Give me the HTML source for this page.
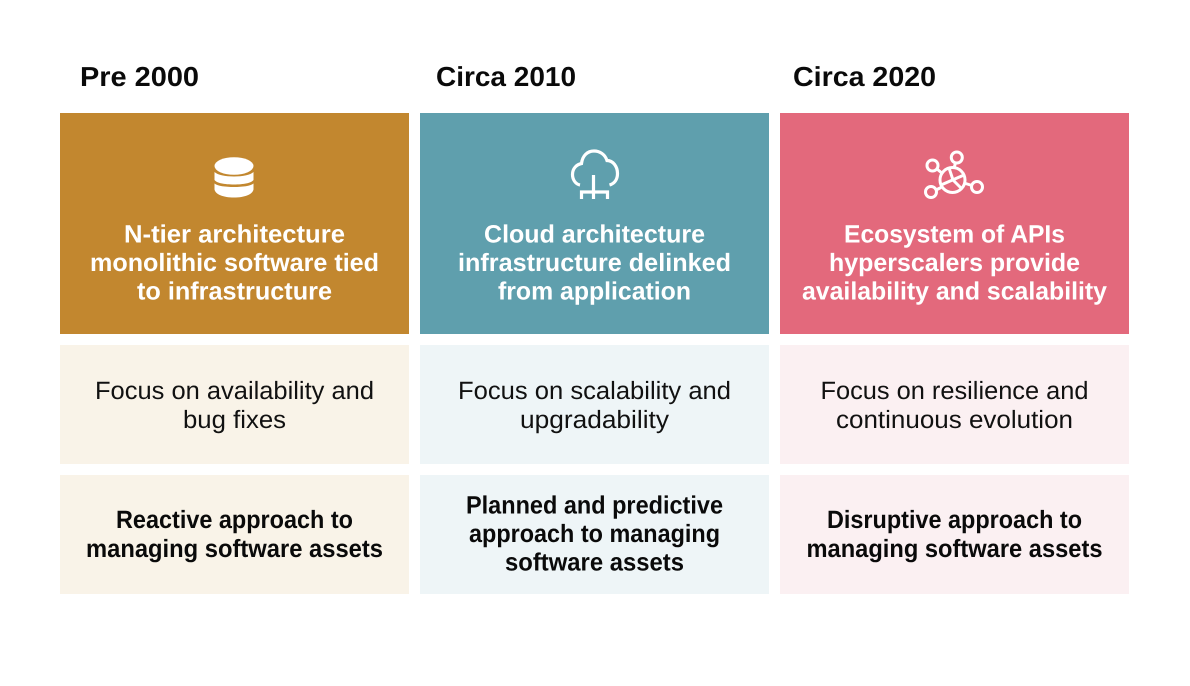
<!DOCTYPE html>
<html lang="en">
<head>
<meta charset="utf-8">
<title>Software asset management evolution</title>
<style>
html,body{margin:0;padding:0;background:#fff;width:1190px;height:686px;overflow:hidden}
svg{display:block}
text{font-family:"Liberation Sans",Arial,sans-serif;text-rendering:geometricPrecision}
.h{font-size:27.5px;font-weight:700;fill:#0a0a0a}
.w{font-size:25px;font-weight:700;fill:#fff}
.r{font-size:25px;font-weight:400;fill:#111}
.b{font-size:25px;font-weight:700;fill:#0a0a0a}
</style>
</head>
<body>
<svg width="1190" height="686" viewBox="0 0 1190 686" xmlns="http://www.w3.org/2000/svg">
<rect width="1190" height="686" fill="#fff"/>

<text class="h" x="80" y="86" textLength="119" lengthAdjust="spacingAndGlyphs">Pre 2000</text>
<text class="h" x="436" y="86" textLength="140" lengthAdjust="spacingAndGlyphs">Circa 2010</text>
<text class="h" x="793" y="86" textLength="143" lengthAdjust="spacingAndGlyphs">Circa 2020</text>

<rect x="60" y="113" width="349" height="221" fill="#c2872f"/>
<rect x="420" y="113" width="349" height="221" fill="#5f9fad"/>
<rect x="780" y="113" width="349" height="221" fill="#e3697c"/>

<rect x="60" y="345" width="349" height="119" fill="#f9f3e8"/>
<rect x="420" y="345" width="349" height="119" fill="#eef5f7"/>
<rect x="780" y="345" width="349" height="119" fill="#fbf0f2"/>

<rect x="60" y="475" width="349" height="119" fill="#f9f3e8"/>
<rect x="420" y="475" width="349" height="119" fill="#eef5f7"/>
<rect x="780" y="475" width="349" height="119" fill="#fbf0f2"/>

<g fill="#fff">
  <ellipse cx="234" cy="166" rx="19.5" ry="8.8"/>
  <path d="M214.500 172c3 3 11 4.500 19.500 4.500s16.500-1.500 19.500-4.500v8c-2 3-10 4.500-19.500 4.500s-17.500-1.500-19.500-4.500z"/>
  <path d="M214.500 183.500c3 2.500 11 3.500 19.500 3.500s16.500-1 19.500-3.500v6c-1 5-9 8-19.500 8s-18.500-3-19.500-8z"/>
</g>

<g fill="none" stroke="#fff" stroke-width="3.2">
  <path d="M580 185c-5-1-7.500-6-7.500-10.500 0-6 4-10 9-11 1-8 6-12.500 12.500-12.500 6 0 11 3.500 13 9.500 6 0 10.500 6 10.500 13 0 6-3 10-8 11.500"/>
  <path d="M593.500 175v24M581.500 199v-7h26v7"/>
</g>

<g fill="none" stroke="#fff" stroke-width="3">
  <circle cx="932.500" cy="165.500" r="5.500"/>
  <circle cx="956.800" cy="157.500" r="5.500"/>
  <circle cx="977" cy="187" r="5.500"/>
  <circle cx="931" cy="192" r="5.500"/>
  <circle cx="952.500" cy="180" r="12.500"/>
  <path d="M937 169l6 5M955.500 163l-1.500 5M964 183l8 2.500M936 190l5-2.500M941 185l23-10M949 168l4 12 8 8"/>
</g>

<g text-anchor="middle">
<text class="w" x="234.500" y="242.500" textLength="221" lengthAdjust="spacingAndGlyphs">N-tier architecture</text>
<text class="w" x="234.500" y="271" textLength="289" lengthAdjust="spacingAndGlyphs">monolithic software tied</text>
<text class="w" x="234.500" y="299.500" textLength="195" lengthAdjust="spacingAndGlyphs">to infrastructure</text>
<text class="w" x="594.500" y="242.500" textLength="221" lengthAdjust="spacingAndGlyphs">Cloud architecture</text>
<text class="w" x="594.500" y="271" textLength="273" lengthAdjust="spacingAndGlyphs">infrastructure delinked</text>
<text class="w" x="594.500" y="299.500" textLength="193" lengthAdjust="spacingAndGlyphs">from application</text>
<text class="w" x="954.500" y="242.500" textLength="221" lengthAdjust="spacingAndGlyphs">Ecosystem of APIs</text>
<text class="w" x="954.500" y="271" textLength="251" lengthAdjust="spacingAndGlyphs">hyperscalers provide</text>
<text class="w" x="954.500" y="299.500" textLength="305" lengthAdjust="spacingAndGlyphs">availability and scalability</text>

<text class="r" x="234.500" y="399" textLength="279" lengthAdjust="spacingAndGlyphs">Focus on availability and</text>
<text class="r" x="234.500" y="428" textLength="103" lengthAdjust="spacingAndGlyphs">bug fixes</text>
<text class="r" x="594.500" y="399" textLength="273" lengthAdjust="spacingAndGlyphs">Focus on scalability and</text>
<text class="r" x="594.500" y="428" textLength="149" lengthAdjust="spacingAndGlyphs">upgradability</text>
<text class="r" x="954.500" y="399" textLength="268" lengthAdjust="spacingAndGlyphs">Focus on resilience and</text>
<text class="r" x="954.500" y="428" textLength="237" lengthAdjust="spacingAndGlyphs">continuous evolution</text>

<text class="b" x="234.500" y="528" textLength="237" lengthAdjust="spacingAndGlyphs">Reactive approach to</text>
<text class="b" x="234.500" y="557" textLength="297" lengthAdjust="spacingAndGlyphs">managing software assets</text>
<text class="b" x="594.500" y="513.500" textLength="257" lengthAdjust="spacingAndGlyphs">Planned and predictive</text>
<text class="b" x="594.500" y="542" textLength="251" lengthAdjust="spacingAndGlyphs">approach to managing</text>
<text class="b" x="594.500" y="570.500" textLength="179" lengthAdjust="spacingAndGlyphs">software assets</text>
<text class="b" x="954.500" y="528" textLength="255" lengthAdjust="spacingAndGlyphs">Disruptive approach to</text>
<text class="b" x="954.500" y="557" textLength="296" lengthAdjust="spacingAndGlyphs">managing software assets</text>
</g>
</svg>
</body>
</html>
